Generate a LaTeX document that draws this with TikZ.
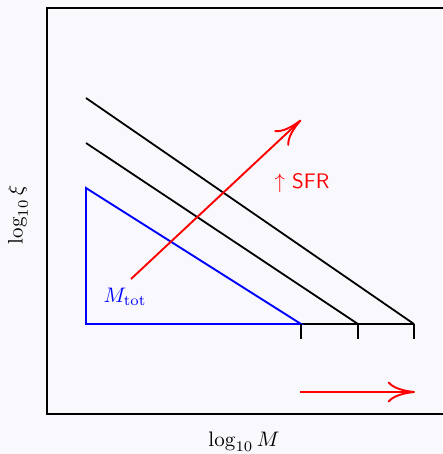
\documentclass[tikz,border=0pt]{standalone}
\usepackage{amsmath}
\usepackage{tikz}
\usetikzlibrary{arrows.meta}

\definecolor{bgpaper}{HTML}{F8F8FD}

\begin{document}
\begin{tikzpicture}[
    x=0.476pt, y=-0.476pt,
    frame/.style={line width=1pt},
    cut/.style={line width=0.85pt},
    mtot/.style={line width=0.9pt, blue},
    shift arrow/.style={line width=0.9pt, red, -{Computer Modern Rightarrow[length=13pt, width=10pt]}},
    tick/.style={line width=0.85pt}
]

% paper and axes box (right side runs off the page)
\fill[bgpaper] (0,0) rectangle (442,454);
\useasboundingbox (0,0) rectangle (442,454);
\draw[frame] (470,8) -- (47,8) -- (47,414) -- (470,414);

% corner points
\coordinate (top1) at (86,98);
\coordinate (top2) at (86,143);
\coordinate (top3) at (86,188);
\coordinate (base) at (86,324);
\coordinate (end1) at (301,324);
\coordinate (end2) at (358,324);
\coordinate (end3) at (414,324);

% upper cut lines
\draw[cut] (top1) -- (end3);
\draw[cut] (top2) -- (end2);
\draw[cut] (end1) -- (end3);

% lowest triangle
\draw[mtot] (top3) -- (base) -- (end1) -- cycle;

% ticks under the base line
\foreach \e in {end1, end2, end3}
    \draw[tick] (\e) -- ++(0,15);

% shift arrows
\coordinate (sfr a) at (131,279);
\coordinate (sfr b) at (301,120);
\draw[shift arrow] (sfr a) -- (sfr b);

\coordinate (mass a) at (300,392);
\coordinate (mass b) at (415,392);
\draw[shift arrow] (mass a) -- (mass b);

% labels
\node[red] (sfr) at (302,183) {$\uparrow$\,\,\textsf{SFR}};
\node[blue] (mtotlabel) at (125,297) {$M_{\rm tot}$};

\node (xlabel) at (244,442) {$\log_{10} M$};
\node[rotate=90] (ylabel) at (18,215) {$\log_{10}\xi$};

\end{tikzpicture}
\end{document}
